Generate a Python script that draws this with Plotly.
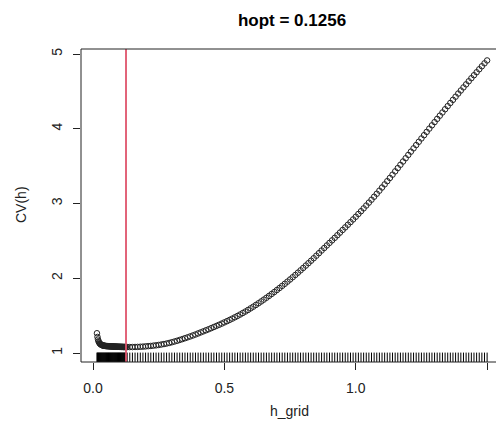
import numpy as np
import plotly.graph_objects as go

# ---- data ----
h_fine = np.round(np.arange(0.015, 0.1251, 0.002), 3)
cv_fine = [1.265, 1.215, 1.180, 1.158, 1.142, 1.131, 1.123, 1.117, 1.112, 1.108,
           1.105, 1.102, 1.100, 1.098, 1.097, 1.096, 1.095, 1.094,
           1.093, 1.093, 1.092, 1.092, 1.091, 1.091, 1.090, 1.090, 1.089, 1.089,
           1.088, 1.088, 1.087, 1.087, 1.087, 1.086, 1.086, 1.086, 1.085, 1.085,
           1.085, 1.084, 1.084, 1.084, 1.083, 1.083, 1.083, 1.083, 1.082, 1.082,
           1.082, 1.082, 1.081, 1.081, 1.081, 1.081, 1.080, 1.080]
h_coarse = np.round(np.arange(0.13, 1.5001, 0.01), 2)
cv_coarse = [1.080, 1.080, 1.080, 1.081, 1.082, 1.084, 1.086, 1.089, 1.092, 1.095,
             1.099, 1.103, 1.108, 1.114, 1.120, 1.127, 1.135, 1.144, 1.154, 1.164,
             1.175, 1.186, 1.198, 1.210, 1.222, 1.235, 1.248, 1.262, 1.276, 1.290,
             1.304, 1.318, 1.333, 1.348, 1.363, 1.378, 1.394, 1.410, 1.426, 1.443,
             1.460, 1.478, 1.496, 1.515, 1.535, 1.555, 1.576, 1.598, 1.620, 1.643,
             1.666, 1.690, 1.714, 1.739, 1.764, 1.790, 1.816, 1.843, 1.870, 1.898,
             1.926, 1.955, 1.984, 2.014, 2.044, 2.075, 2.106, 2.138, 2.170, 2.202,
             2.235, 2.268, 2.302, 2.336, 2.371, 2.405, 2.439, 2.473, 2.507, 2.541,
             2.576, 2.611, 2.646, 2.681, 2.716, 2.751, 2.787, 2.823, 2.860, 2.897,
             2.935, 2.973, 3.012, 3.051, 3.091, 3.131, 3.172, 3.214, 3.256, 3.299,
             3.342, 3.386, 3.430, 3.474, 3.518, 3.562, 3.606, 3.650, 3.694, 3.738,
             3.782, 3.826, 3.870, 3.914, 3.958, 4.002, 4.046, 4.089, 4.132, 4.175,
             4.218, 4.261, 4.303, 4.345, 4.387, 4.429, 4.471, 4.512, 4.553, 4.594,
             4.635, 4.676, 4.716, 4.756, 4.796, 4.836, 4.875, 4.914]
hopt = 0.1256
x_ticks = [0.0, 0.5, 1.0, 1.5]
x_tick_labels = ["0.0", "0.5", "1.0", "1.5"]
y_ticks = [1, 2, 3, 4, 5]
y_tick_labels = ["1", "2", "3", "4", "5"]

n1 = min(len(h_fine), len(cv_fine))
n2 = min(len(h_coarse), len(cv_coarse))
h_grid = list(h_fine[:n1]) + list(h_coarse[:n2])
cv = list(cv_fine[:n1]) + list(cv_coarse[:n2])

XR = [-0.0457, 1.530]
YR = [0.880, 5.067]
FONT = "Liberation Sans, Arial, sans-serif"

fig = go.Figure()

# rug
rx, ry = [], []
for h in h_grid:
    rx += [h, h, None]
    ry += [YR[0], 1.006, None]
fig.add_trace(go.Scatter(x=rx, y=ry, mode="lines",
                         line=dict(color="black", width=1), hoverinfo="skip"))

# points
fig.add_trace(go.Scatter(x=h_grid, y=cv, mode="markers",
                         marker=dict(symbol="circle-open", size=5.5,
                                     color="#222", line=dict(width=1, color="#222"))))

# hopt line
fig.add_trace(go.Scatter(x=[hopt, hopt], y=YR, mode="lines",
                         line=dict(color="#DF536B", width=1.8)))

# box (right side runs off the canvas like the reference)
fig.add_shape(type="rect", xref="paper", yref="paper", x0=0, x1=1.05, y0=0, y1=1,
              line=dict(color="#222", width=1))

fig.update_layout(
    width=496, height=428,
    margin=dict(l=81, r=1, t=49, b=66),
    paper_bgcolor="white", plot_bgcolor="white",
    showlegend=False,
    font=dict(family=FONT, size=14, color="#222"),
    title=dict(text="<b>hopt = 0.1256</b>", x=292 / 496, xref="container",
               y=1 - 20 / 428, yref="container", xanchor="center", yanchor="middle",
               font=dict(family=FONT, size=17, color="black")),
    xaxis=dict(range=XR, showgrid=False, zeroline=False, showline=False,
               tickvals=x_ticks, ticktext=x_tick_labels, ticks="outside",
               ticklen=7, tickwidth=1, tickcolor="#222", ticklabelstandoff=6,
               tickfont=dict(family=FONT, size=14, color="#222")),
    yaxis=dict(range=YR, showgrid=False, zeroline=False, showline=False,
               tickvals=y_ticks, ticktext=y_tick_labels, ticks="outside",
               ticklen=7, tickwidth=1, tickcolor="#222", tickangle=-90,
               ticklabelstandoff=5,
               tickfont=dict(family=FONT, size=14, color="#222")),
    annotations=[
        dict(text="h_grid", xref="paper", yref="paper", x=(289 - 81) / 414,
             y=(362 - 411) / 313, showarrow=False, xanchor="center", yanchor="middle",
             font=dict(family=FONT, size=14, color="#222")),
        dict(text="CV(h)", xref="paper", yref="paper", x=(21 - 81) / 414,
             y=(362 - 205) / 313, showarrow=False, xanchor="center", yanchor="middle",
             textangle=-90, font=dict(family=FONT, size=14, color="#222")),
    ],
)

fig.write_html("out.html")
